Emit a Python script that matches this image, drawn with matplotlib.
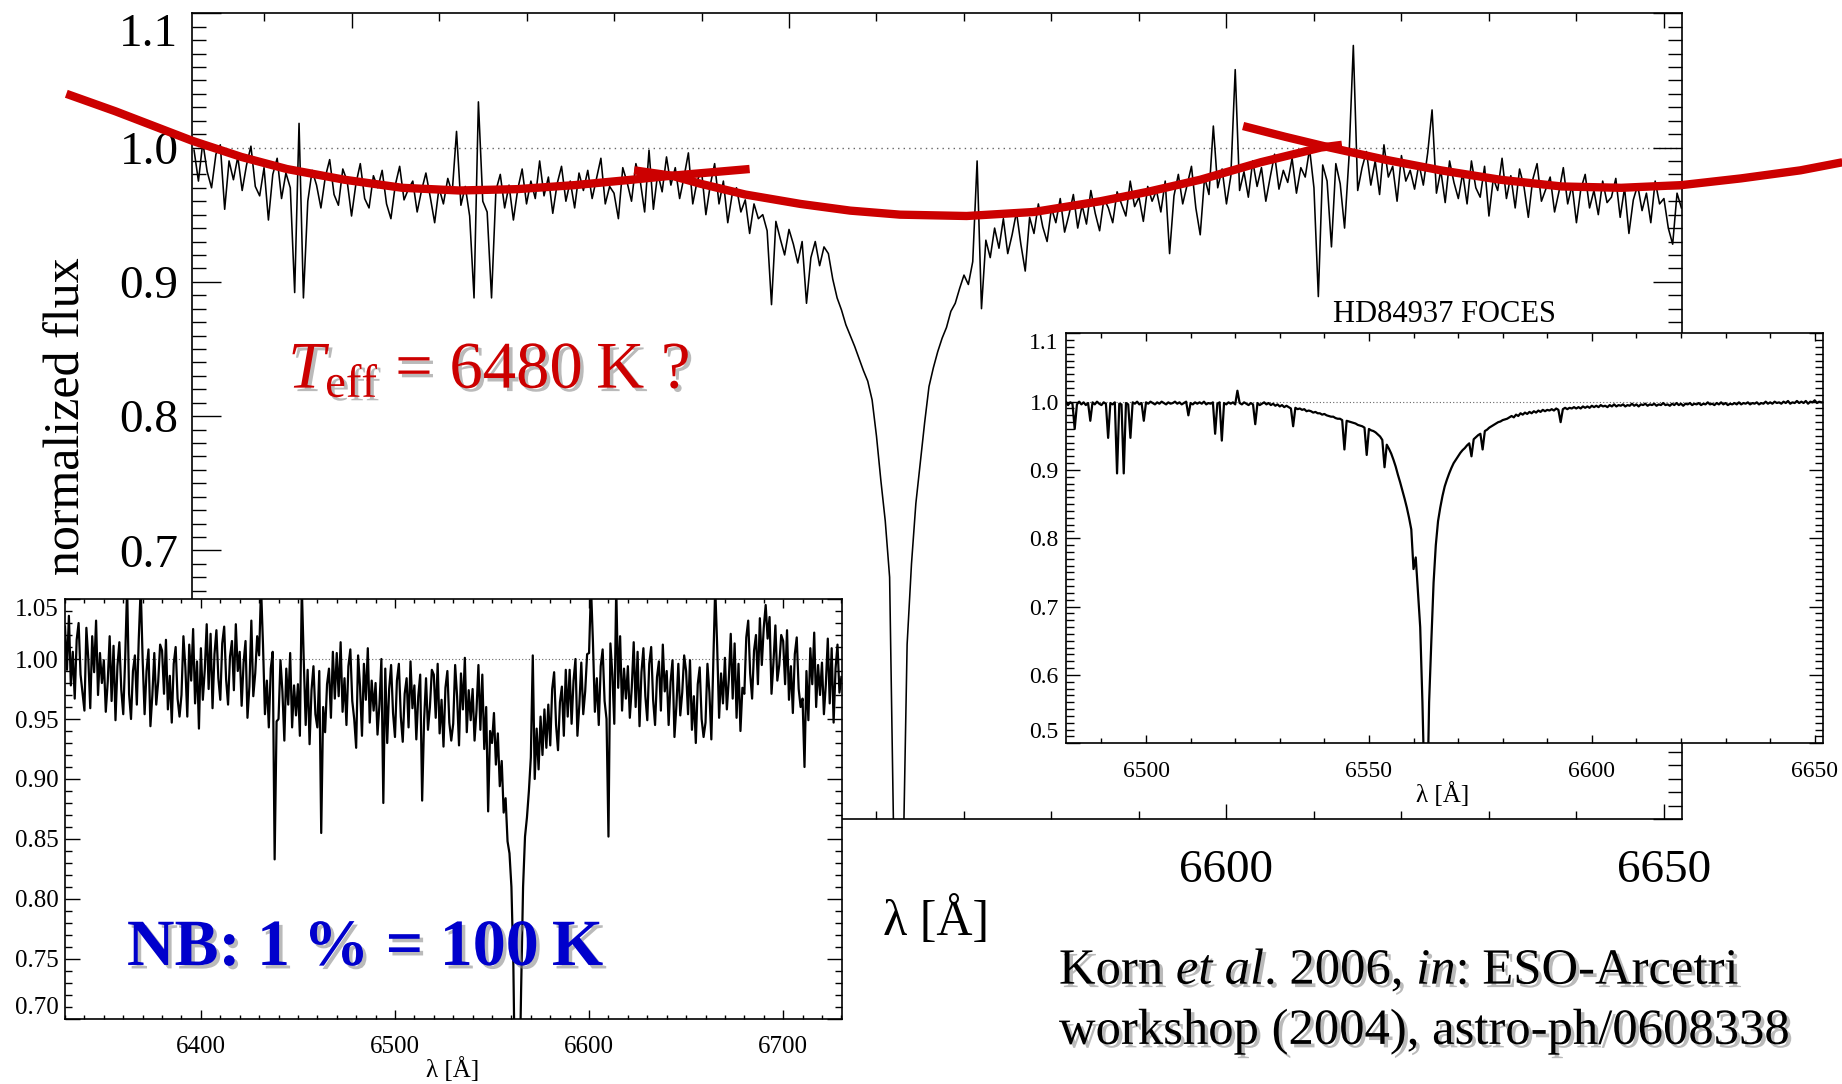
import numpy as np
import matplotlib
matplotlib.use("Agg")
import matplotlib.pyplot as plt
import matplotlib.patheffects as pe
from matplotlib.ticker import MultipleLocator

plt.rcParams['font.family'] = ['Liberation Serif', 'DejaVu Serif']
plt.rcParams['mathtext.fontset'] = 'custom'
plt.rcParams['mathtext.rm'] = 'Liberation Serif'
plt.rcParams['mathtext.it'] = 'Liberation Serif:italic'
plt.rcParams['mathtext.bf'] = 'Liberation Serif:bold'

# ---- main spectrum (0.5 A steps from 6482 A) ----
main_wave_start = 6482.0
main_wave_step = 0.5
main_flux = [
    0.998, 0.975, 1.004, 0.982, 0.970, 0.995, 1.002, 0.954, 0.990, 0.976,
    0.993, 0.968, 0.987, 1.001, 0.971, 0.964, 0.985, 0.946, 0.980, 0.992,
    0.962, 0.981, 0.970, 0.892, 1.018, 0.888, 0.960, 0.983, 0.972, 0.955,
    0.978, 0.991, 0.965, 0.957, 0.984, 0.975, 0.949, 0.973, 0.988, 0.962,
    0.955, 0.979, 0.970, 0.983, 0.958, 0.947, 0.972, 0.986, 0.961, 0.969,
    0.975, 0.952, 0.968, 0.981, 0.963, 0.944, 0.970, 0.958, 0.977, 0.966,
    1.012, 0.957, 0.971, 0.949, 0.888, 1.034, 0.960, 0.952, 0.888, 0.968,
    0.980, 0.955, 0.972, 0.946, 0.969, 0.984, 0.958, 0.975, 0.962, 0.990,
    0.964, 0.978, 0.951, 0.973, 0.986, 0.960, 0.975, 0.955, 0.981, 0.968,
    0.983, 0.962, 0.977, 0.992, 0.958, 0.971, 0.966, 0.947, 0.985, 0.974,
    0.960, 0.988, 0.975, 0.952, 0.998, 0.954, 0.981, 0.967, 0.993, 0.972,
    0.985, 0.962, 0.978, 0.996, 0.958, 0.975, 0.983, 0.950, 0.972, 0.988,
    0.958, 0.975, 0.944, 0.965, 0.970, 0.952, 0.961, 0.936, 0.958, 0.947,
    0.950, 0.938, 0.883, 0.945, 0.932, 0.920, 0.939, 0.928, 0.914, 0.930,
    0.884, 0.918, 0.930, 0.912, 0.926, 0.921, 0.902, 0.888, 0.879, 0.868,
    0.860, 0.852, 0.843, 0.834, 0.826, 0.812, 0.785, 0.752, 0.722, 0.680,
    0.470, 0.380, 0.450, 0.630, 0.690, 0.735, 0.765, 0.795, 0.822, 0.836,
    0.848, 0.858, 0.866, 0.878, 0.884, 0.895, 0.905, 0.898, 0.915, 0.990,
    0.880, 0.931, 0.918, 0.940, 0.925, 0.947, 0.921, 0.935, 0.952, 0.928,
    0.908, 0.948, 0.936, 0.958, 0.941, 0.930, 0.955, 0.944, 0.962, 0.937,
    0.950, 0.965, 0.940, 0.957, 0.943, 0.968, 0.951, 0.938, 0.962, 0.955,
    0.944, 0.967, 0.958, 0.949, 0.975, 0.956, 0.963, 0.945, 0.971, 0.960,
    0.968, 0.952, 0.975, 0.921, 0.964, 0.980, 0.958, 0.972, 0.986, 0.955,
    0.935, 0.978, 0.965, 1.016, 0.970, 0.984, 0.958, 0.979, 1.058, 0.968,
    0.982, 0.963, 0.990, 0.971, 0.985, 0.960, 0.978, 0.995, 0.969, 0.983,
    0.974, 0.992, 0.966, 0.985, 0.978, 0.999, 0.970, 0.889, 0.987, 0.975,
    0.926, 0.988, 0.973, 0.940, 0.992, 1.076, 0.968, 0.985, 0.997, 0.972,
    0.990, 0.965, 1.002, 0.978, 0.986, 0.960, 0.994, 0.975, 0.983, 0.969,
    0.988, 0.972, 0.996, 1.028, 0.966, 0.983, 0.959, 0.990, 0.974, 0.962,
    0.981, 0.958, 0.990, 0.970, 0.963, 0.986, 0.949, 0.977, 0.968, 0.992,
    0.962, 0.979, 0.955, 0.984, 0.971, 0.948, 0.976, 0.988, 0.960, 0.969,
    0.978, 0.952, 0.967, 0.985, 0.958, 0.972, 0.944, 0.969, 0.980, 0.955,
    0.968, 0.950, 0.975, 0.959, 0.963, 0.977, 0.948, 0.970, 0.936, 0.961,
    0.972, 0.953, 0.966, 0.944, 0.975, 0.958, 0.962, 0.940, 0.928, 0.966,
    0.955,
]

# hand drawn continuum guesses (red)
red_left_wave = [6467.4, 6473.0, 6481.8, 6487.4, 6492.6, 6499.2, 6505.8, 6512.3, 6518.9, 6525.5, 6532.0, 6536.6, 6545.5]
red_left_flux = [1.040, 1.027, 1.005, 0.993, 0.984, 0.976, 0.970, 0.968, 0.969, 0.972, 0.976, 0.979, 0.984]
red_mid_wave = [6532.3, 6536.6, 6539.9, 6545.0, 6551.3, 6557.0, 6562.7, 6570.3, 6578.0, 6585.6, 6591.0, 6597.0, 6603.9, 6610.8, 6613.2]
red_mid_flux = [0.983, 0.979, 0.973, 0.965, 0.958, 0.953, 0.950, 0.949, 0.952, 0.960, 0.967, 0.976, 0.989, 1.000, 1.002]
red_right_wave = [6601.9, 6606.7, 6611.8, 6618.1, 6624.5, 6631.3, 6638.3, 6645.1, 6652.0, 6658.8, 6665.6, 6670.4]
red_right_flux = [1.016, 1.008, 1.000, 0.991, 0.983, 0.976, 0.971, 0.970, 0.972, 0.977, 0.983, 0.989]

# ---- FOCES spectrum (inset right, 0.5 A steps from 6482 A) ----
foces_wave_start = 6482.0
foces_wave_step = 0.5
foces_flux = [
    1.000, 0.995, 0.999, 0.997, 0.960, 0.996, 1.000, 0.996, 0.999, 0.995,
    0.998, 0.972, 0.999, 0.996, 1.000, 0.997, 0.995, 0.999, 0.997, 0.947,
    0.998, 0.996, 0.999, 0.895, 0.997, 0.996, 0.895, 0.998, 0.996, 0.947,
    0.999, 0.997, 1.000, 0.996, 0.998, 0.972, 0.999, 0.997, 1.000, 0.998,
    0.996, 0.999, 0.997, 1.000, 0.998, 0.996, 0.999, 0.997, 0.998, 1.000,
    0.997, 0.999, 0.996, 0.998, 1.000, 0.980, 0.998, 0.996, 0.999, 0.997,
    0.999, 0.997, 1.000, 0.996, 0.998, 0.997, 0.999, 0.953, 0.997, 0.999,
    0.943, 0.998, 0.996, 0.999, 0.997, 0.999, 0.996, 1.016, 0.998, 0.996,
    0.999, 0.997, 0.995, 0.998, 0.996, 0.967, 0.998, 0.995, 0.997, 0.999,
    0.996, 0.998, 0.995, 0.997, 0.994, 0.996, 0.993, 0.995, 0.992, 0.994,
    0.992, 0.990, 0.964, 0.991, 0.989, 0.990, 0.988, 0.989, 0.986, 0.987,
    0.986, 0.984, 0.985, 0.983, 0.983, 0.981, 0.982, 0.980, 0.979, 0.978,
    0.978, 0.976, 0.975, 0.975, 0.973, 0.930, 0.972, 0.971, 0.970, 0.969,
    0.968, 0.966, 0.965, 0.964, 0.962, 0.922, 0.960, 0.958, 0.957, 0.955,
    0.952, 0.949, 0.944, 0.904, 0.937, 0.931, 0.924, 0.915, 0.905, 0.893,
    0.882, 0.870, 0.858, 0.845, 0.830, 0.813, 0.755, 0.772, 0.722, 0.670,
    0.560, 0.420, 0.380, 0.560, 0.650, 0.735, 0.790, 0.825, 0.845, 0.862,
    0.876, 0.886, 0.895, 0.903, 0.910, 0.915, 0.920, 0.925, 0.929, 0.932,
    0.936, 0.939, 0.920, 0.945, 0.948, 0.951, 0.953, 0.930, 0.957, 0.959,
    0.962, 0.964, 0.966, 0.968, 0.970, 0.971, 0.973, 0.974, 0.975, 0.977,
    0.979, 0.977, 0.981, 0.979, 0.983, 0.981, 0.984, 0.982, 0.985, 0.983,
    0.986, 0.984, 0.987, 0.985, 0.988, 0.986, 0.988, 0.987, 0.989, 0.987,
    0.990, 0.988, 0.970, 0.989, 0.991, 0.989, 0.991, 0.990, 0.992, 0.990,
    0.992, 0.990, 0.993, 0.991, 0.993, 0.991, 0.994, 0.992, 0.994, 0.992,
    0.995, 0.993, 0.994, 0.992, 0.995, 0.993, 0.996, 0.993, 0.995, 0.994,
    0.996, 0.993, 0.995, 0.994, 0.997, 0.994, 0.996, 0.993, 0.996, 0.995,
    0.997, 0.994, 0.996, 0.995, 0.997, 0.994, 0.996, 0.995, 0.998, 0.995,
    0.996, 0.994, 0.997, 0.995, 0.998, 0.995, 0.997, 0.994, 0.997, 0.996,
    0.998, 0.995, 0.997, 0.996, 0.998, 0.995, 0.997, 0.996, 0.999, 0.996,
    0.997, 0.995, 0.998, 0.996, 0.999, 0.996, 0.998, 0.995, 0.997, 0.996,
    0.998, 0.996, 0.999, 0.996, 0.998, 0.997, 0.999, 0.996, 0.998, 0.997,
    0.999, 0.996, 0.998, 0.997, 1.000, 0.997, 0.999, 0.997, 1.000, 0.998,
    0.999, 0.997, 1.000, 0.998, 1.001, 0.997, 0.999, 0.998, 1.001, 0.998,
    1.000, 0.998, 1.001, 0.997, 1.000, 0.999, 1.002, 0.998, 1.000, 0.999,
    0.999,
]

# ---- wide spectrum (inset lower left, 1 A steps from 6330 A) ----
wide_wave_start = 6330.0
wide_wave_step = 1.0
wide_flux = [
    1.027, 0.991, 1.036, 0.978, 1.006, 0.967, 1.016, 1.030, 0.987, 0.972,
    0.957, 1.026, 1.000, 0.959, 1.019, 0.989, 1.032, 0.970, 1.005, 0.980,
    0.999, 0.956, 0.981, 1.019, 0.965, 1.011, 0.949, 0.994, 1.014, 0.974,
    0.954, 1.001, 1.060, 0.971, 0.950, 0.990, 1.003, 0.962, 1.017, 1.060,
    0.999, 0.954, 0.990, 1.008, 0.944, 0.970, 1.005, 0.962, 0.981, 1.012,
    1.007, 0.971, 1.016, 0.958, 0.986, 0.947, 0.996, 1.010, 0.967, 0.952,
    0.970, 1.019, 0.993, 0.952, 1.012, 0.982, 1.025, 0.963, 0.998, 0.942,
    1.009, 0.966, 0.991, 1.029, 0.975, 1.021, 0.959, 1.004, 1.024, 0.984,
    0.966, 1.013, 1.027, 0.983, 0.962, 1.002, 1.015, 0.974, 1.029, 0.990,
    1.006, 0.961, 0.997, 1.015, 0.951, 0.977, 1.032, 0.969, 0.988, 1.019,
    1.003, 1.060, 1.012, 0.954, 0.982, 0.943, 0.992, 1.006, 0.833, 0.948,
    0.950, 0.999, 0.973, 0.932, 0.992, 0.962, 1.005, 0.943, 0.978, 0.953,
    0.979, 0.936, 1.060, 0.999, 0.945, 0.991, 0.929, 0.974, 0.994, 0.954,
    0.943, 0.990, 0.855, 0.960, 0.939, 0.979, 0.992, 0.951, 1.006, 0.967,
    1.005, 0.969, 1.014, 0.956, 0.984, 0.945, 0.994, 1.008, 0.965, 0.950,
    0.926, 1.003, 0.977, 0.936, 0.996, 0.966, 1.009, 0.947, 0.982, 0.957,
    0.980, 0.937, 0.962, 1.000, 0.880, 0.992, 0.930, 0.975, 0.995, 0.955,
    0.935, 0.982, 0.996, 0.952, 0.931, 0.971, 0.984, 0.943, 0.998, 0.959,
    0.978, 0.933, 0.969, 0.987, 0.882, 0.949, 0.984, 0.941, 0.960, 0.991,
    0.987, 0.951, 0.996, 0.938, 0.966, 0.927, 0.976, 0.990, 0.947, 0.932,
    0.946, 0.995, 0.969, 0.928, 0.988, 0.958, 1.001, 0.939, 0.974, 0.949,
    0.975, 0.932, 0.957, 0.995, 0.941, 0.987, 0.925, 0.960, 0.873, 0.940,
    0.930, 0.955, 0.912, 0.938, 0.894, 0.915, 0.872, 0.884, 0.848, 0.838,
    0.810, 0.745, 0.620, 0.520, 0.630, 0.725, 0.810, 0.852, 0.868, 0.890,
    0.918, 1.003, 0.900, 0.942, 0.908, 0.952, 0.920, 0.958, 0.926, 0.962,
    0.928, 0.975, 0.989, 0.945, 0.924, 0.964, 0.977, 0.936, 0.991, 0.952,
    0.991, 0.946, 0.982, 1.000, 0.936, 0.962, 0.997, 0.954, 0.973, 1.004,
    1.005, 1.060, 1.014, 0.956, 0.984, 0.945, 0.994, 1.008, 0.965, 0.950,
    0.852, 1.013, 0.987, 0.946, 1.060, 0.976, 1.019, 0.957, 0.992, 0.967,
    0.994, 0.951, 0.976, 1.014, 0.960, 1.006, 0.944, 0.989, 1.009, 0.969,
    0.949, 0.996, 1.010, 0.966, 0.945, 0.985, 0.998, 0.957, 1.012, 0.973,
    0.990, 0.945, 0.981, 0.999, 0.935, 0.961, 0.996, 0.953, 0.972, 1.003,
    0.990, 0.954, 0.999, 0.941, 0.969, 0.930, 0.979, 0.993, 0.950, 0.935,
    0.947, 0.996, 0.972, 0.933, 0.995, 1.060, 1.011, 0.951, 0.988, 0.963,
    1.001, 0.958, 0.983, 1.021, 0.967, 1.013, 0.951, 0.996, 0.940, 0.976,
    0.971, 1.018, 1.032, 0.988, 0.967, 1.007, 1.020, 0.979, 1.034, 0.995,
    1.026, 1.045, 1.017, 1.035, 0.971, 0.997, 1.028, 0.982, 0.995, 1.020,
    1.015, 0.979, 1.024, 0.966, 0.994, 0.955, 1.004, 1.018, 0.975, 0.960,
    0.967, 0.910, 0.990, 0.949, 1.009, 0.979, 1.022, 0.960, 0.995, 0.970,
    0.997, 0.954, 0.979, 1.017, 0.963, 1.009, 0.947, 0.992, 1.012, 0.972,
    0.985,
]

main_yticks = [0.5, 0.6, 0.7, 0.8, 0.9, 1.0, 1.1]
main_xticks = [6500, 6550, 6600, 6650]
foces_yticks = [0.5, 0.6, 0.7, 0.8, 0.9, 1.0, 1.1]
foces_xticks = [6500, 6550, 6600, 6650]
wide_yticks = [0.70, 0.75, 0.80, 0.85, 0.90, 0.95, 1.00, 1.05]
wide_xticks = [6400, 6500, 6600, 6700]

RED = '#cc0000'
BLUE = '#0000cc'
shadow = [pe.withSimplePatchShadow(offset=(2.5, -2.5), shadow_rgbFace='#8c8c8c', alpha=0.6)]


def style_axes(ax, yticks, yfmt, xticks, xminor, yminor, size, ymaj, ymin, xmaj, xmin, ypad, xpad):
    ax.set_yticks(yticks)
    ax.set_yticklabels([yfmt % v for v in yticks])
    ax.set_xticks(xticks)
    ax.set_xticklabels(['%d' % v for v in xticks])
    ax.xaxis.set_minor_locator(MultipleLocator(xminor))
    ax.yaxis.set_minor_locator(MultipleLocator(yminor))
    ax.tick_params(which='both', direction='in', top=True, right=True, width=1.0, color='black')
    ax.tick_params(axis='y', which='major', length=ymaj, labelsize=size, pad=ypad)
    ax.tick_params(axis='y', which='minor', length=ymin)
    ax.tick_params(axis='x', which='major', length=xmaj, labelsize=size, pad=xpad)
    ax.tick_params(axis='x', which='minor', length=xmin)
    for s in ax.spines.values():
        s.set_linewidth(1.2)
    # end labels sit inside the frame, as in the original
    labels = ax.get_yticklabels()
    labels[0].set_verticalalignment('bottom')
    labels[-1].set_verticalalignment('top')


fig = plt.figure(figsize=(18.42, 10.84), dpi=100)

# main panel
ax = fig.add_axes([0.1044, 0.2445, 0.8089, 0.7433])
main_wave = main_wave_start + main_wave_step * np.arange(len(main_flux))
ax.plot(main_wave, main_flux, color='black', lw=1.15, zorder=2)
ax.axhline(1.0, color='#666666', ls=(0, (1, 3)), lw=1.0, zorder=1)
for w, f in [(red_left_wave, red_left_flux), (red_mid_wave, red_mid_flux), (red_right_wave, red_right_flux)]:
    ax.plot(w, f, color=RED, lw=6, clip_on=False, zorder=4, solid_capstyle='butt')
ax.set_xlim(6481.8, 6652.1)
ax.set_ylim(0.5, 1.1)
style_axes(ax, main_yticks, '%.1f', main_xticks, 10, 0.01, 34, 21, 10, 11, 6, 10, 22)
ax.set_ylabel('normalized flux', fontsize=36)
ax.yaxis.set_label_coords(-0.068, 0.5)
ax.set_xlabel('λ [Å]', fontsize=36)
ax.xaxis.set_label_coords(0.499, -0.097)

# FOCES inset
ax2 = fig.add_axes([0.5786, 0.3143, 0.4112, 0.3782])
foces_wave = foces_wave_start + foces_wave_step * np.arange(len(foces_flux))
ax2.plot(foces_wave, foces_flux, color='black', lw=1.6, zorder=2)
ax2.axhline(1.0, color='#666666', ls=(0, (1, 2)), lw=0.8, zorder=1)
ax2.set_xlim(6482.0, 6651.9)
ax2.set_ylim(0.5, 1.1)
style_axes(ax2, foces_yticks, '%.1f', foces_xticks, 10, 0.01, 17, 10, 5.5, 6, 3.5, 5, 13)
ax2.set_title('HD84937 FOCES', fontsize=22, pad=8)
ax2.set_xlabel('λ [Å]', fontsize=18)
ax2.xaxis.set_label_coords(0.497, -0.094)

# wide range inset
ax3 = fig.add_axes([0.0353, 0.0600, 0.4220, 0.3874])
wide_wave = wide_wave_start + wide_wave_step * np.arange(len(wide_flux))
ax3.plot(wide_wave, wide_flux, color='black', lw=1.6, zorder=2)
ax3.axhline(1.0, color='#666666', ls=(0, (1, 2)), lw=0.8, zorder=1)
ax3.set_xlim(6330, 6730.5)
ax3.set_ylim(0.70, 1.05)
style_axes(ax3, wide_yticks, '%.2f', wide_xticks, 10, 0.01, 18, 11, 5.3, 6.5, 3, 4.5, 12)
ax3.set_xlabel('λ [Å]', fontsize=18)
ax3.xaxis.set_label_coords(0.498, -0.090)

# annotations
fig.text(0.1564, 0.6421, '$T_{\\mathrm{eff}}$ = 6480\u2009K ?', color=RED, fontsize=48,
         va='baseline', ha='left', path_effects=shadow)
fig.text(0.0689, 0.1098, 'NB: 1\u2009% = 100\u2009K', color=BLUE, fontsize=47.5, fontweight='bold',
         va='baseline', ha='left', path_effects=shadow)
fig.text(0.5749, 0.0923, r'Korn $et\ al$. 2006, $in$: ESO-Arcetri', color='black', fontsize=36.5,
         va='baseline', ha='left', path_effects=shadow)
fig.text(0.5749, 0.0370, 'workshop (2004), astro-ph/0608338', color='black', fontsize=36.5,
         va='baseline', ha='left', path_effects=shadow)

fig.savefig('out.png', dpi=100)
